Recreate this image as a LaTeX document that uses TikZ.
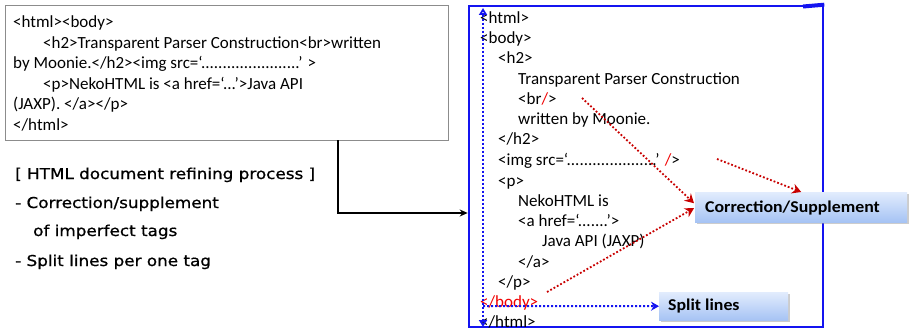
\documentclass[tikz,border=0pt]{standalone}
\usepackage{fontspec}
\setmainfont{Carlito}
\newfontfamily\notefont[FakeStretch=1.12,FakeBold=0.8]{DejaVu Sans}
\newfontfamily\callfont[FakeStretch=1.08]{Carlito}
\usetikzlibrary{arrows.meta,shadows,calc}
\definecolor{boxblue}{RGB}{20,20,240}
\definecolor{tagred}{RGB}{240,0,0}
\definecolor{darkred}{RGB}{200,0,0}
\definecolor{calltop}{RGB}{226,236,253}
\definecolor{callbot}{RGB}{166,195,244}
\tikzset{
  code/.style={anchor=base west, inner sep=0pt, font=\fontsize{17}{19}\selectfont},
  note/.style={anchor=base west, inner sep=0pt, font=\notefont\fontsize{15}{17}\selectfont},
  callout/.style={draw=none, top color=calltop, bottom color=callbot,
    drop shadow={shadow xshift=2pt, shadow yshift=-2pt, fill=black!40},
    anchor=north west, inner sep=0pt},
  calltext/.style={anchor=west, inner sep=0pt, font=\callfont\bfseries\fontsize{16.5}{18}\selectfont},
  fixarrow/.style={darkred, line width=1.8pt, dotted, -{Stealth[length=9pt,width=10pt]}},
  splitarrow/.style={boxblue, line width=2pt, dotted},
}
\begin{document}
\begin{tikzpicture}[x=1pt,y=-1pt]
\useasboundingbox (0,0) rectangle (909,331);

% source HTML box
\node[draw=black!45, line width=0.6pt, minimum width=443pt, minimum height=135pt,
  inner sep=0pt] (src) at (226.5,72.5) {};
\node[code] (s1) at (13,28) {<html><body>};
\node[code] (s2) at (43,48.5) {<h2>Transparent Parser Construction<br>written};
\node[code] (s3) at (13,69) {by Moonie.</h2><img src=‘.......................’ >};
\node[code] (s4) at (43,89.5) {<p>NekoHTML is <a href=‘...’>Java API};
\node[code] (s5) at (13,110) {(JAXP). </a></p>};
\node[code] (s6) at (13,130.5) {</html>};

% description of the refining process
\node[note] (n1) at (15,179) {[ HTML document refining process ]};
\node[note] (n2) at (15,208) {- Correction/supplement};
\node[note] (n3) at (33,236) {of imperfect tags};
\node[note] (n4) at (15,266) {- Split lines per one tag};

% refined HTML box
\node[draw=boxblue, line width=2.6pt, minimum width=354pt, minimum height=321pt,
  inner sep=0pt] (dst) at (646,166.5) {};
\draw[boxblue, line width=4pt] (803,6.5) -- (dst.north east);

\node[code] (r1)  at (480,24)  {<html>};
\node[code] (r2)  at (480,44)  {<body>};
\node[code] (r3)  at (498,64)  {<h2>};
\node[code] (r4)  at (518,85)  {Transparent Parser Construction};
\node[code] (r5)  at (518,105) {<br\textcolor{tagred}{/}>};
\node[code] (r6)  at (518,125) {written by Moonie.};
\node[code] (r7)  at (498,145) {</h2>};
\node[code] (r8)  at (498,166) {<img src=‘.....................’ \textcolor{tagred}{/}>};
\node[code] (r9)  at (498,186) {<p>};
\node[code] (r10) at (518,206) {NekoHTML is};
\node[code] (r11) at (518,226) {<a href=‘.......’>};
\node[code] (r12) at (542,246) {Java API (JAXP)};
\node[code] (r13) at (518,267) {</a>};
\node[code] (r14) at (498,287) {</p>};
\node[code, text=tagred] (r15) at (480,307) {</body>};
\node[code] (r16) at (480,327) {</html>};

% connector from source to refined document
\coordinate (elbow) at (338,213);
\draw[line width=2pt, -{Stealth[length=8pt,width=7pt]}]
  (src.south -| elbow) -- (elbow) -- (dst.west |- elbow);

% callouts
\node[callout, minimum width=212pt, minimum height=30pt] (corr) at (695,192) {};
\node[calltext] (corrt) at (705,207.5) {Correction/Supplement};
\node[callout, minimum width=129pt, minimum height=28pt] (split) at (659,292) {};
\node[calltext] (splitt) at (668,306.5) {Split lines};

% line-split marker
\coordinate (vtop) at (483,8);
\coordinate (vbot) at (483,327);
\coordinate (hstart) at (483,306);
\draw[splitarrow, {Triangle[open,length=7pt,width=8pt]}-{Triangle[open,length=7pt,width=8pt]}] (vtop) -- (vbot);
\draw[splitarrow, -{Stealth[length=8pt,width=9pt]}] (hstart) -- (split.west);

% corrected tags
\coordinate (fa) at (582,98);
\coordinate (fb) at (717,159);
\coordinate (fc) at (547,292);
\draw[fixarrow] (fa) -- ($(corr.west)+(-1,-4)$);
\draw[fixarrow] (fb) -- (corr.north);
\draw[fixarrow] (fc) -- ($(corr.west)+(-1,1)$);
\end{tikzpicture}
\end{document}
